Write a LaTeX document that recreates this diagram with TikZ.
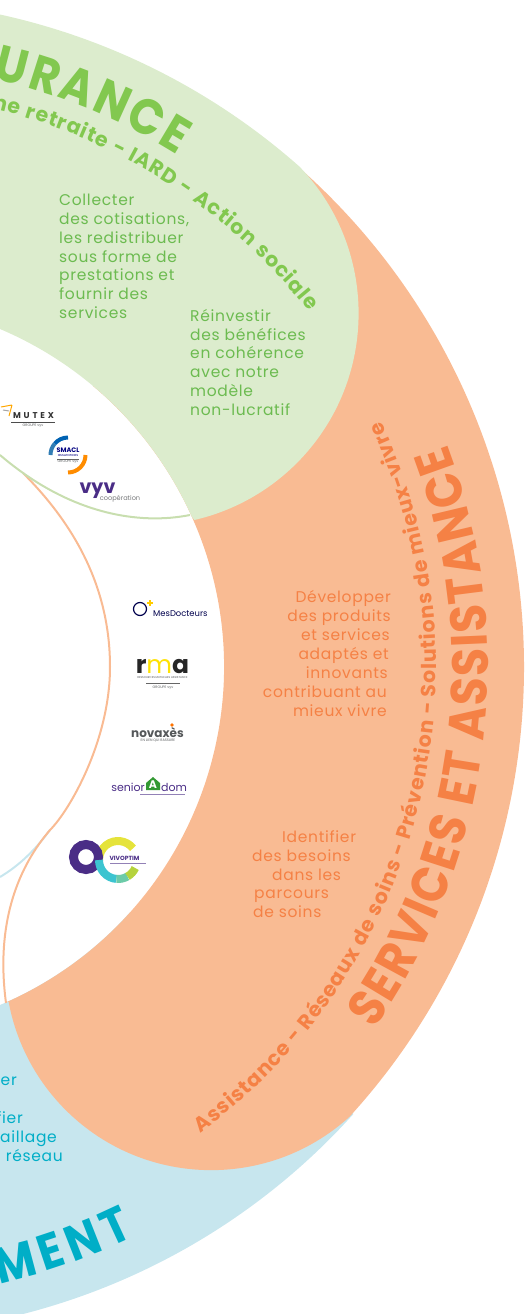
\documentclass[tikz,border=0pt]{standalone}
\usepackage{fontspec}
\setmainfont{Poppins}
\newfontfamily\bodyface[LetterSpace=4.5]{Poppins}
\newfontfamily\titleface[FakeStretch=0.9]{Poppins}
\usetikzlibrary{calc,decorations.text}
\definecolor{legreen}{HTML}{DCECCD}
\definecolor{linegreen}{HTML}{C8DEAF}
\definecolor{lorange}{HTML}{F9BB93}
\definecolor{lblue}{HTML}{C7E6EE}
\definecolor{dgreen}{HTML}{82C84F}
\definecolor{bgreen}{HTML}{6CBB50}
\definecolor{dorange}{HTML}{F58145}
\definecolor{dblue}{HTML}{00AEC7}
\definecolor{vyvpurple}{HTML}{4A2D86}
\definecolor{logogray}{HTML}{55585A}
\definecolor{optyellow}{HTML}{E5E33B}
\definecolor{optteal}{HTML}{3CC4D0}
\definecolor{optmid}{HTML}{6CCBA8}
\definecolor{optgreen}{HTML}{B5D33D}
\newcommand{\bodyfont}{\bodyface\fontsize{15.5}{18.8}\selectfont}
\newcommand{\bigfont}{\titleface\fontsize{50}{50}\selectfont\bfseries}
\newcommand{\longfont}{\titleface\fontsize{51}{50}\selectfont\bfseries}
\newcommand{\subfont}{\fontsize{20.5}{20}\selectfont\bfseries}
\tikzset{
    thin line/.style={line width=2pt},
    body/.style={font=\bodyfont,inner sep=0pt},
    tiny gray/.style={font=\fontsize{3.5}{4}\selectfont,text=logogray,inner sep=0pt},
    ring text/.style={decorate,decoration={text along path,text align=fit to path,text={#1}}},
}
\begin{document}
\begin{tikzpicture}[x=1pt,y=1pt]
    \useasboundingbox (0,0) rectangle (525,-1314);
    \clip (0,0) rectangle (525,-1314);
    \coordinate (c) at (-143,-667);

    % the three lobes of the ring
    \fill[lblue] ($(c)+(-42:668)$) arc[start angle=-42,end angle=-100,radius=668] -- ($(c)+(-100:367)$) arc[start angle=-100,end angle=-42,radius=367] -- cycle;
    \fill[lorange] ($(c)+(50:667)$) arc[start angle=50,end angle=-42.4,radius=667] arc[start angle=-47.8,end angle=-169.5,radius=206] -- ($(c)+(-66:367)$) arc[start angle=-66,end angle=50,radius=367] -- cycle;
    \fill[legreen] ($(c)+(100:668)$) arc[start angle=100,end angle=48.5,radius=668] arc[start angle=43.8,end angle=-77,radius=212] -- ($(c)+(24.2:367)$) arc[start angle=24.2,end angle=100,radius=367] -- cycle;

    % thin lines inside the ring
    \coordinate (bl1) at (0,-877);
    \coordinate (bl2) at (50,-830);
    \draw[thin line,lblue] (bl1) .. controls (20,-865) and (35,-850) .. (bl2);
    \coordinate (ol1) at (23,-473);
    \coordinate (ol2) at (110,-667);
    \coordinate (ol3) at (50,-830);
    \coordinate (ol4) at (6,-1003);
    \draw[thin line,lorange] (ol1) .. controls (85,-535) and (110,-600) .. (ol2) .. controls (110,-740) and (70,-810) .. (ol3) .. controls (20,-865) and (-5,-920) .. (ol4);
    \coordinate (gl1) at (190,-515);
    \coordinate (gl2) at (0,-455);
    \draw[thin line,linegreen] (gl1) .. controls (140,-525) and (70,-515) .. (gl2);

    % ring titles
    \path[ring text={|\color{dgreen}\bigfont|URANCE}] ($(c)+(77:604)$) arc[start angle=77,end angle=58,radius=604];
    \path[ring text={|\color{dgreen}\subfont|ne retraite - IARD - Action sociale}] ($(c)+(76.4:575)$) arc[start angle=76.4,end angle=38.2,radius=575];
    \path[ring text={|\color{dorange}\longfont|SERVICES ET ASSISTANCE}] ($(c)+(-35:631)$) arc[start angle=-35,end angle=20.7,radius=631];
    \path[ring text={|\color{dorange}\subfont|Assistance - Réseaux de soins - Prévention - Solutions de mieux-vivre}] ($(c)+(-53.6:579)$) arc[start angle=-53.6,end angle=25,radius=579];
    \path[ring text={|\color{dblue}\bigfont|MENT}] ($(c)+(-77:633)$) arc[start angle=-77,end angle=-64,radius=633];

    % texts of the lobes
    \node[body,text=bgreen,anchor=north west,align=left] (collecter) at (59,-194) {Collecter\\des cotisations,\\les redistribuer\\sous forme de\\prestations et\\fournir des\\services};
    \node[body,text=bgreen,anchor=north west,align=left] (reinvestir) at (190,-309) {Réinvestir\\des bénéfices\\en cohérence\\avec notre\\modèle\\non-lucratif};
    \foreach \i/\x/\y/\t in {1/391/602/Développer,2/391/621/des produits,3/390/640/et services,4/389/659/adaptés et,5/388/678/innovants,6/387/697/contribuant au,7/387/716/mieux vivre} {
        \node[body,text=dorange,anchor=base east] (dev\i) at (\x,-\y) {\t};
    }
    \foreach \i/\x/\y/\t in {1/282/842/Identifier,2/252/861/des besoins,3/272/880/dans les,4/254/898/parcours,5/253/917/de soins} {
        \node[body,text=dorange,anchor=base west] (id\i) at (\x,-\y) {\t};
    }
    \foreach \i/\x/\y/\t in {1/17/1085/er,2/23/1123/fier,3/57/1142/aillage,4/63/1161/u réseau} {
        \node[body,text=dblue,anchor=base east] (blue\i) at (\x,-\y) {\t};
    }

    % MUTEX
    \draw[line width=1pt,orange!70!yellow] (1,-407) -- (12,-405) (12,-405) -- (9,-416);
    \draw[line width=1pt,gray!70] (3,-410) -- (9,-411);
    \node[inner sep=0pt,font=\fontsize{8.5}{8}\selectfont\bfseries,text=black!80] (mutex) at (33.5,-416) {M\,\,U\,\,T\,\,E\,\,X};
    \draw[thin,black!70] (11,-422) -- (55,-422);
    \node[tiny gray] (mutexg) at (33,-425.5) {GROUPE vyv};

    % SMACL
    \coordinate (sm) at (68,-455);
    \draw[line width=4pt,blue!45!cyan!70!black] ($(sm)+(90:17.5)$) arc[start angle=90,end angle=140,radius=17.5];
    \draw[line width=4pt,cyan!70!blue!80!black] ($(sm)+(140:17.5)$) arc[start angle=140,end angle=180,radius=17.5];
    \draw[line width=4pt,orange!90!yellow] ($(sm)+(-90:17.5)$) arc[start angle=-90,end angle=0,radius=17.5];
    \node[inner sep=0pt,font=\fontsize{6.5}{7}\selectfont\bfseries,text=blue!50!black] (smacl) at (68,-450.5) {SMACL};
    \node[tiny gray,text=blue!50!black] (smaclb) at (68,-456) {assurances};
    \draw[very thin,black!60] (57,-459) -- (79,-459);
    \node[tiny gray] (smaclg) at (68,-461.5) {GROUPE vyv};

    % vyv
    \node[inner sep=0pt,anchor=base,font=\fontsize{19}{20}\selectfont\bfseries,text=vyvpurple] (vyv) at (97.5,-493) {vyv};
    \node[inner sep=0pt,anchor=base,font=\fontsize{6.6}{8}\selectfont,text=logogray!80] (coop) at (120,-500) {coopération};

    % MesDocteurs
    \draw[line width=1.2pt,blue!30!black] (140,-609) circle[radius=6.5];
    \draw[line width=1.2pt,orange!40!yellow] (150,-600) -- (150,-606) (147,-603) -- (153,-603);
    \node[inner sep=0pt,anchor=base west,font=\fontsize{8.4}{10}\selectfont,text=blue!30!black] (mesdoc) at (153,-616) {MesDocteurs};

    % rma
    \node[inner sep=0pt,anchor=base,font=\fontsize{25}{25}\selectfont\bfseries,text=black!85] (rma) at (162.5,-673) {r\textcolor{yellow!85!orange}{\mdseries m}a};
    \node[tiny gray,font=\fontsize{2.8}{3}\selectfont] (rmas) at (162.5,-678) {RESSOURCES MUTUELLES ASSISTANCE};
    \draw[very thin,black!60] (146,-683) -- (180,-683);
    \node[tiny gray] (rmag) at (163,-688) {GROUPE vyv};

    % novaxes
    \node[inner sep=0pt,anchor=base,font=\fontsize{12}{14}\selectfont\bfseries,text=logogray] (novaxes) at (157.5,-737) {novaxès};
    \fill[orange!90!red] (172,-725) circle[radius=1.8];
    \node[tiny gray] (novaxess) at (158,-740.5) {EN LIEN QUI RASSURE};

    % senior A dom
    \fill[green!50!black!80!white] (146,-790) -- (146,-783) -- (153,-777) -- (160,-783) -- (160,-790) -- cycle;
    \node[inner sep=0pt,font=\fontsize{11}{11}\selectfont\bfseries,text=white] (seniora) at (153,-785) {A};
    \node[inner sep=0pt,anchor=base east,font=\fontsize{11}{13}\selectfont,text=vyvpurple] (senior) at (145,-791) {senior};
    \node[inner sep=0pt,anchor=base west,font=\fontsize{11}{13}\selectfont,text=vyvpurple] (dom) at (161,-791) {dom};
    \draw[very thin,vyvpurple!60] (140,-794) -- (185,-794);

    % VIVOPTIM
    \draw[line width=8pt,optyellow] ($(118,-860)+(38:19)$) arc[start angle=38,end angle=180,radius=19];
    \draw[line width=9pt,vyvpurple] (86,-857) circle[radius=12.5];
    \draw[line width=8pt,optteal] ($(118,-860)+(180:19)$) arc[start angle=180,end angle=265,radius=19];
    \draw[line width=8pt,optmid] ($(118,-860)+(265:19)$) arc[start angle=265,end angle=300,radius=19];
    \draw[line width=8pt,optgreen] ($(118,-860)+(300:19)$) arc[start angle=300,end angle=335,radius=19];
    \node[inner sep=0pt,font=\fontsize{6}{6}\selectfont\bfseries,text=vyvpurple] (vivoptim) at (124.5,-858) {VIVOPTIM};
    \draw[very thin,vyvpurple!60] (110,-863.5) -- (146,-863.5);
\end{tikzpicture}
\end{document}
